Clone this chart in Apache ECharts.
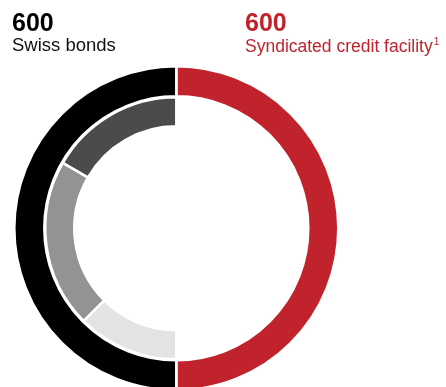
<!DOCTYPE html>
<html>
<head>
<meta charset="utf-8">
<script src="https://cdn.jsdelivr.net/npm/echarts@6/dist/echarts.min.js"></script>
<style>
html,body{margin:0;padding:0;background:#fff;}
#c{width:446px;height:387px;}
</style>
</head>
<body>
<div id="c"></div>
<script>
// Outer ring (clockwise from top)
const outerNames = ['Syndicated credit facility', 'Swiss bonds'];
const outerValues = [600, 600];
const outerColors = ['#C0232B', '#000000'];

// Inner ring: breakdown of Swiss bonds (clockwise from bottom), right half empty
const innerNames = ['Unused', 'Bond tranche C', 'Bond tranche B', 'Bond tranche A'];
const innerValues = [600, 150, 250, 200];
const innerColors = ['transparent', '#E3E3E3', '#939393', '#4B4B4B'];

// Headline labels
const headValues = ['600', '600'];
const headLabels = ['Swiss bonds', 'Syndicated credit facility'];
const footnoteMark = '1';

const chart = echarts.init(document.getElementById('c'), null, {renderer: 'canvas'});

const cx = 176.3, cy = 228.3;
const FONT = '"Liberation Sans", Arial, sans-serif';
const RED = '#C0232B';

chart.setOption({
  animation: false,
  series: [
    {
      type: 'pie',
      center: [cx, cy],
      radius: [132, 162],
      startAngle: 90,
      clockwise: true,
      silent: true,
      label: {show: false},
      labelLine: {show: false},
      itemStyle: {borderColor: '#fff', borderWidth: 2.5},
      data: outerNames.map((n, i) => ({name: n, value: outerValues[i], itemStyle: {color: outerColors[i]}}))
    },
    {
      type: 'pie',
      center: [cx, cy],
      radius: [102, 131],
      startAngle: 90,
      clockwise: true,
      silent: true,
      label: {show: false},
      labelLine: {show: false},
      itemStyle: {borderColor: '#fff', borderWidth: 2.5},
      data: innerNames.map((n, i) => ({
        name: n, value: innerValues[i],
        itemStyle: i === 0 ? {color: 'transparent', borderWidth: 0} : {color: innerColors[i]}
      }))
    }
  ],
  graphic: [
    {type: 'text', left: 12, top: 12, style: {text: headValues[0], font: 'bold 25px ' + FONT, fill: '#000'}},
    {type: 'text', left: 12, top: 36, style: {text: headLabels[0], font: '18.5px ' + FONT, fill: '#111'}},
    {type: 'text', left: 245, top: 12, style: {text: headValues[1], font: 'bold 25px ' + FONT, fill: RED}},
    {type: 'text', left: 245, top: 36, style: {
      text: '{a|' + headLabels[1] + '}{s|' + footnoteMark + '}',
      fill: RED,
      rich: {
        a: {fontSize: 17.5, fontFamily: FONT, fill: RED, lineHeight: 20, verticalAlign: 'bottom'},
        s: {fontSize: 10, fontFamily: FONT, fill: RED, lineHeight: 20, verticalAlign: 'top', padding: [1, 0, 0, 1]}
      }
    }}
  ]
});
</script>
</body>
</html>
